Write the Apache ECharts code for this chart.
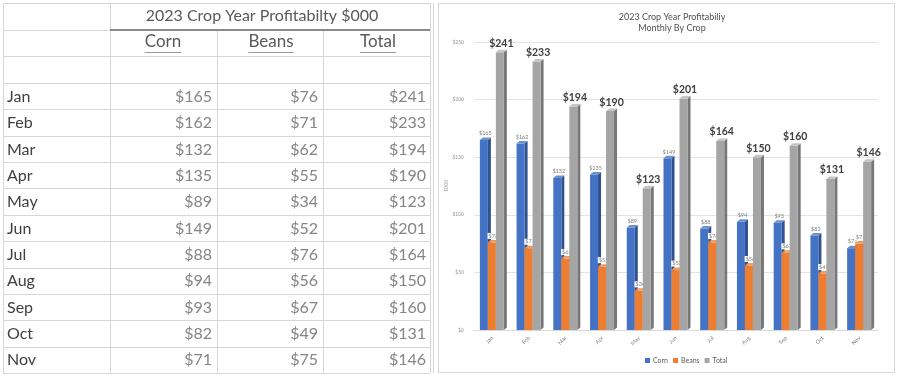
<!DOCTYPE html>
<html><head><meta charset="utf-8">
<script src="https://cdn.jsdelivr.net/npm/echarts@6/dist/echarts.min.js"></script>
<style>html,body{margin:0;padding:0;background:#fff}#c{width:900px;height:378px}</style>
</head><body><div id="c"></div>
<script>
const months = ['Jan','Feb','Mar','Apr','May','Jun','Jul','Aug','Sep','Oct','Nov'];
const corn  = [165,162,132,135,89,149,88,94,93,82,71];
const beans = [76,71,62,55,34,52,76,56,67,49,75];
const total = [241,233,194,190,123,201,164,150,160,131,146];
const seriesNames = ['Corn','Beans','Total'];
const tableTitle = '2023 Crop Year Profitabilty $000';
const chartTitle = '2023 Crop Year Profitabiliy';
const chartSubtitle = 'Monthly By Crop';
const yMin = 0, yMax = 250, yInterval = 50;

const FONT = 'Lato, "Open Sans", sans-serif';
const money = v => '$' + v;

// ---------- table (graphic) ----------
const colX = [3,110,217,323,430];
const headTop = [3,30,56,83];
const tableBottom = 373;
const rowH = (tableBottom - headTop[3]) / months.length;
const g = [];
const light = '#d6d6d6';
function hline(y,x1,x2,c,w){g.push({type:'line',shape:{x1,y1:y,x2,y2:y},style:{stroke:c||light,lineWidth:w||1}});}
function vline(x,y1,y2){g.push({type:'line',shape:{x1:x,y1,x2:x,y2},style:{stroke:light,lineWidth:1}});}
hline(3.5,3,430);
hline(30.5,3,110);
hline(56.5,3,430);
hline(83.5,3,430);
for(let i=1;i<=months.length;i++){ hline(Math.round(headTop[3]+i*rowH)+0.5,3,430); }
vline(3.5,3,tableBottom); vline(110.5,3,tableBottom); vline(430.5,3,tableBottom);
vline(217.5,30,tableBottom); vline(323.5,30,tableBottom);
vline(433.5,3,tableBottom);
hline(30,110,430,'#8a8a8a',2);

g.push({type:'text',x:262,y:16,style:{text:tableTitle,fontSize:16,fontFamily:FONT,fill:'#595959',align:'center',verticalAlign:'middle'}});
const ctx = document.createElement('canvas').getContext('2d');
ctx.font = '17px Lato';
const headCenters=[163,271,378];
seriesNames.forEach((n,k)=>{
  g.push({type:'text',x:headCenters[k],y:42,style:{text:n,fontSize:17,fontFamily:FONT,fill:'#595959',align:'center',verticalAlign:'middle'}});
  const w = ctx.measureText(n).width;
  g.push({type:'line',shape:{x1:headCenters[k]-w/2,y1:52.5,x2:headCenters[k]+w/2,y2:52.5},style:{stroke:'#9a9a9a',lineWidth:1}});
});
const valRight=[212,318,426];
const cols=[corn,beans,total];
months.forEach((m,i)=>{
  const yc = headTop[3] + i*rowH + rowH/2 + 0.5;
  g.push({type:'text',x:7,y:yc,style:{text:m,fontSize:16,fontFamily:FONT,fill:'#404040',align:'left',verticalAlign:'middle'}});
  cols.forEach((arr,k)=>{
    g.push({type:'text',x:valRight[k],y:yc,style:{text:money(arr[i]),fontSize:16,fontFamily:FONT,fill:'#858585',align:'right',verticalAlign:'middle'}});
  });
});
// chart panel border
g.push({type:'rect',shape:{x:438.5,y:3.5,width:456,height:369},style:{fill:'none',stroke:'#d9d9d9',lineWidth:1},z:-1});

// ---------- 3D bars ----------
const palettes = [
  ['#4472C4','#2F528F','#6A8FD3'],
  ['#ED7D31','#B85F22','#F29A5F'],
  ['#A5A5A5','#777777','#C4C4C4']
];
const labelCfg = [
  {fontSize:5.5,fontWeight:'normal',fill:'#7f7f7f',bg:null},
  {fontSize:5.5,fontWeight:'normal',fill:'#7f7f7f',bg:'#ffffff'},
  {fontSize:10.5,fontWeight:'bold',fill:'#404040',bg:null}
];
function makeSeries(k, arr){
  const pal = palettes[k], lc = labelCfg[k];
  return {
    type:'custom', name:seriesNames[k], z:2+k,
    itemStyle:{color:pal[0]},
    encode:{x:0,y:1},
    data: arr.map((v,i)=>[i,v]),
    renderItem:function(params, api){
      const i = api.value(0), v = api.value(1);
      const p = api.coord([i,v]), b = api.coord([i,0]);
      const w = 8, dx = 3, dy = 2.5;
      const x0 = p[0] - 1.5*w + k*w - dx/2 + 1;
      const x1 = x0 + w, yt = p[1], yb = b[1];
      const children = [
        {type:'polygon',shape:{points:[[x1,yt],[x1+dx,yt-dy],[x1+dx,yb-dy],[x1,yb]]},style:{fill:pal[1]}},
        {type:'rect',shape:{x:x0,y:yt,width:w,height:yb-yt},style:{fill:pal[0]}},
        {type:'polygon',shape:{points:[[x0,yt],[x0+dx,yt-dy],[x1+dx,yt-dy],[x1,yt]]},style:{fill:pal[2]}},
        {type:'text',x:x0+w/2+dx/2,y:yt-dy-1,style:{text:money(v),fontSize:lc.fontSize,fontWeight:lc.fontWeight,fontFamily:FONT,fill:lc.fill,align:'center',verticalAlign:'bottom',backgroundColor:lc.bg||'transparent',padding:lc.bg?[0,1]:0}}
      ];
      return {type:'group',children};
    }
  };
}

const chart = echarts.init(document.getElementById('c'));
chart.setOption({
  animation:false,
  backgroundColor:'#fff',
  textStyle:{fontFamily:FONT},
  title:{text:chartTitle+'\n'+chartSubtitle,left:667,top:7,textAlign:'center',
    textStyle:{fontSize:9,fontWeight:'normal',color:'#505050',lineHeight:11,fontFamily:FONT}},
  legend:{data:seriesNames,left:640,top:352,icon:'rect',itemWidth:5,itemHeight:5,itemGap:5,
    textStyle:{fontSize:7,color:'#595959',padding:[0,0,0,-2]}},
  grid:{left:474,right:22,top:42,bottom:48},
  xAxis:{type:'category',data:months,
    axisLine:{lineStyle:{color:'#d9d9d9'}},axisTick:{show:false},
    axisLabel:{rotate:45,fontSize:5.5,color:'#7f7f7f',margin:7}},
  yAxis:{type:'value',min:yMin,max:yMax,interval:yInterval,
    name:'$000',nameLocation:'middle',nameGap:15,nameRotate:90,
    nameTextStyle:{fontSize:5,color:'#999'},
    axisLine:{show:false},axisTick:{show:false},
    axisLabel:{formatter:v=>'$'+v,fontSize:5,color:'#999',margin:10},
    splitLine:{lineStyle:{color:'#e3e3e3'}}},
  graphic:g,
  series:[makeSeries(0,corn),makeSeries(1,beans),makeSeries(2,total)]
});
</script></body></html>
